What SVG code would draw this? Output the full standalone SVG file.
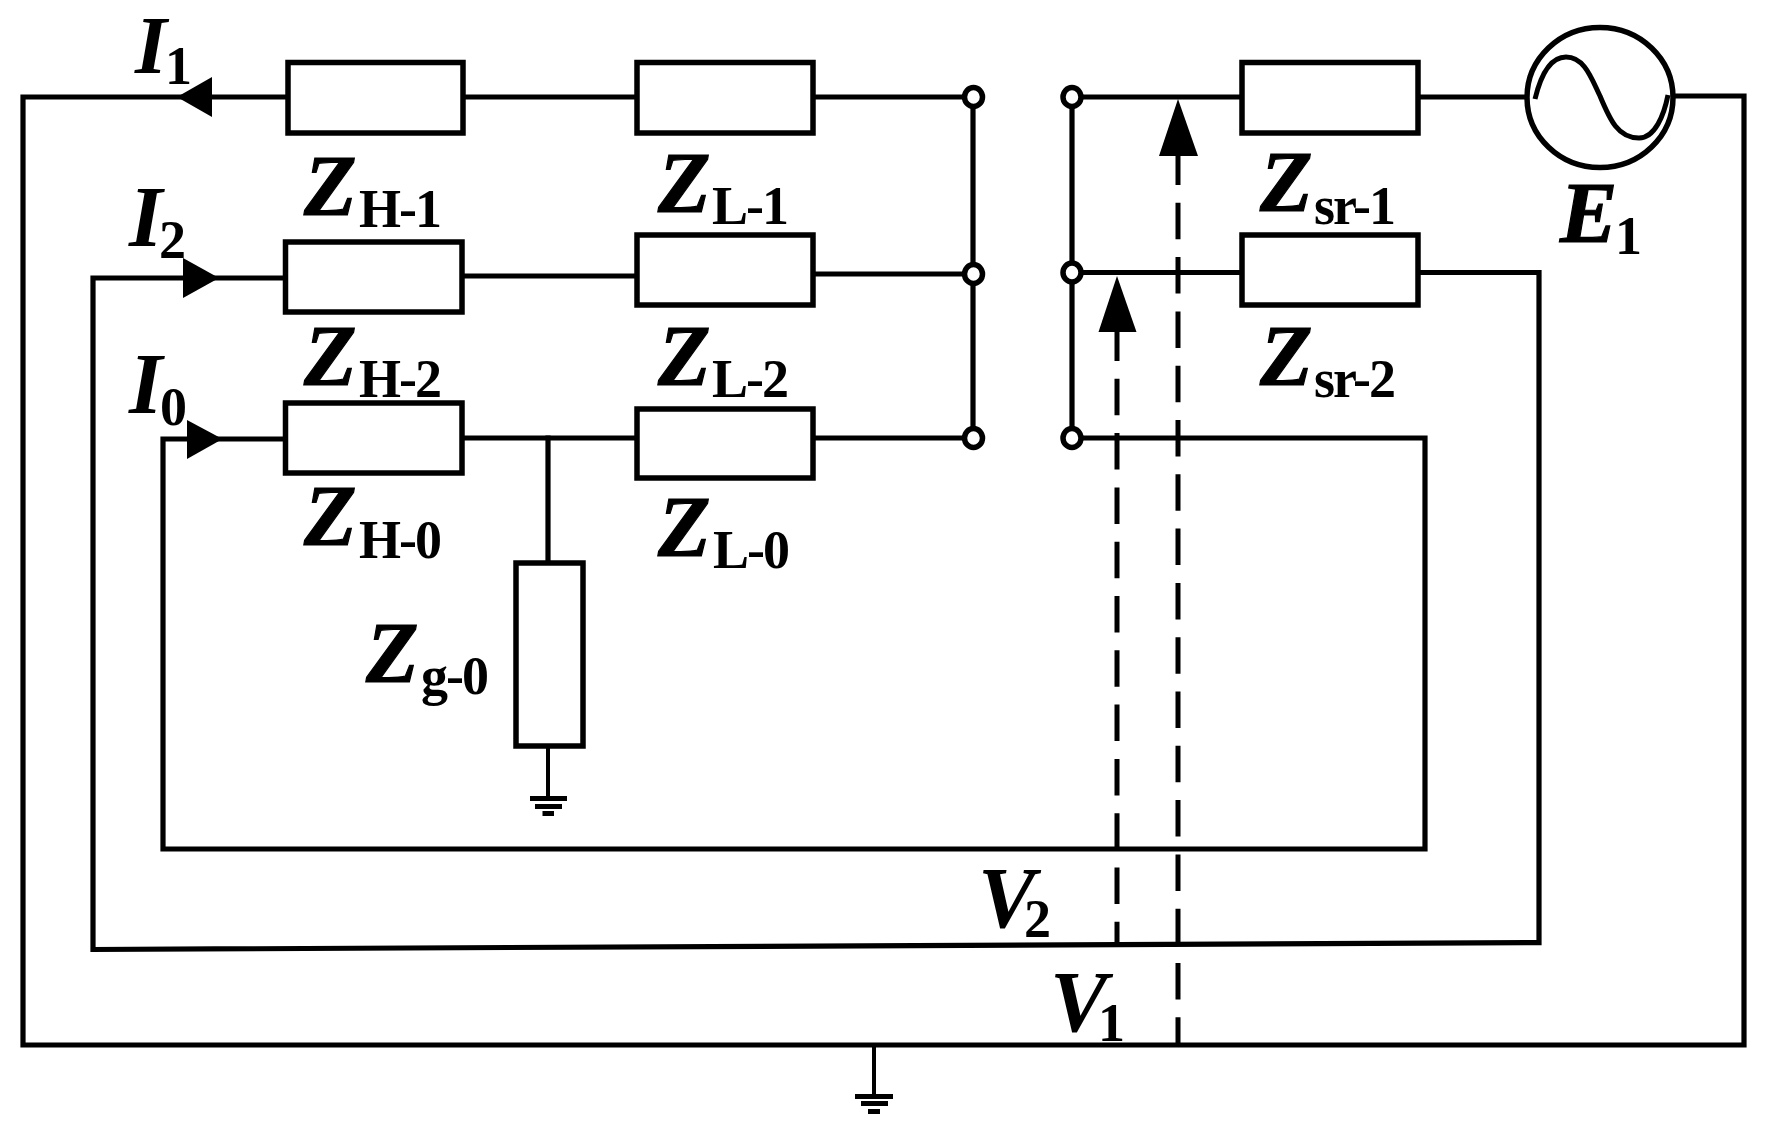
<svg xmlns="http://www.w3.org/2000/svg" width="1765" height="1139" viewBox="0 0 1765 1139">
<style>
.w{fill:none;stroke:#000;stroke-width:5.2;stroke-linejoin:miter;stroke-linecap:square}
.t{fill:none;stroke:#000;stroke-width:4}
.d{fill:none;stroke:#000;stroke-width:5;stroke-dasharray:36.5 17.8}
.b{fill:#fff;stroke:#000;stroke-width:5.5}
.o{fill:#fff;stroke:#000;stroke-width:5.5}
.a{fill:#000;stroke:none}
.k{fill:#000;stroke:none}
text{font-family:"Liberation Serif","Times New Roman",serif;fill:#000}
.m{font-size:86px;font-weight:bold;font-style:italic}
.z{stroke:#000;stroke-width:1.2}
.n{font-size:82px;font-weight:bold;font-style:italic}
.s{font-size:54px;font-weight:bold;letter-spacing:-2px}
</style>
<rect width="1765" height="1139" fill="#fff"/>
<g id="connectors">
<path class="w" d="M287,97 H23 V1045 H1744 V96 H1675"/>
<path class="w" d="M285,278 H93 L93,949.5 L1539,942.6 V272.5 H1418"/>
<path class="w" d="M285,439 H163 V849 H1425 V438 H1072"/>
<path class="w" d="M464,97 H637 M813,97 H973"/>
<path class="w" d="M462,276 H637 M813,274 H973"/>
<path class="w" d="M462,438 H637 M813,438 H973"/>
<path class="w" d="M548,438 V563"/>
<path class="t" d="M548,746 V798"/>
<path class="t" d="M874,1045 V1096"/>
<path class="w" d="M973,97 V438"/>
<path class="w" d="M1072,97 V438"/>
<path class="w" d="M1072,97 H1242"/>
<path class="w" d="M1072,272.5 H1242"/>
<path class="w" d="M1418,97 H1525"/>
<path class="d" d="M1117,324.5 V945"/>
<path class="d" d="M1178,148.5 V1045"/>
<polygon class="a" points="177,97 212,77 212,117"/>
<polygon class="a" points="219,278 183,258 183,298"/>
<polygon class="a" points="222.5,439 187,420 187,459"/>
<polygon class="a" points="1178,99 1159,156 1198,156"/>
<polygon class="a" points="1117,276 1098.5,332 1136.5,332"/>
</g>
<g id="Z-H-1"><rect class="b" x="288" y="62.5" width="175" height="70.5"/><text x="304" y="215"><tspan class="m z">Z</tspan><tspan class="s" x="359" y="226.5">H-1</tspan></text></g>
<g id="Z-L-1"><rect class="b" x="637" y="62.5" width="176" height="70.5"/><text x="658" y="211.6"><tspan class="m z">Z</tspan><tspan class="s" x="712" y="224">L-1</tspan></text></g>
<g id="Z-H-2"><rect class="b" x="285.500" y="242" width="176.500" height="70"/><text x="304" y="384.600"><tspan class="m z">Z</tspan><tspan class="s" x="359" y="397">H-2</tspan></text></g>
<g id="Z-L-2"><rect class="b" x="637" y="235" width="176" height="70"/><text x="658" y="384.600"><tspan class="m z">Z</tspan><tspan class="s" x="712" y="397">L-2</tspan></text></g>
<g id="Z-H-0"><rect class="b" x="285.500" y="403" width="176.500" height="70"/><text x="304" y="545"><tspan class="m z">Z</tspan><tspan class="s" x="359" y="558">H-0</tspan></text></g>
<g id="Z-L-0"><rect class="b" x="637" y="409" width="176" height="69"/><text x="658" y="555.7"><tspan class="m z">Z</tspan><tspan class="s" x="713" y="568">L-0</tspan></text></g>
<g id="Z-g-0"><rect class="b" x="516" y="563" width="67" height="183"/><text x="366" y="682"><tspan class="m z">Z</tspan><tspan class="s" x="421" y="694">g-0</tspan></text></g>
<g id="Z-sr-1"><rect class="b" x="1242" y="62.500" width="176" height="70.500"/><text x="1260" y="211"><tspan class="m z">Z</tspan><tspan class="s" x="1314" y="224" letter-spacing="-1">sr-1</tspan></text></g>
<g id="Z-sr-2"><rect class="b" x="1242" y="235" width="176" height="70"/><text x="1260" y="384.600"><tspan class="m z">Z</tspan><tspan class="s" x="1314" y="397" letter-spacing="-1">sr-2</tspan></text></g>
<g id="E1"><ellipse class="o" cx="1600" cy="97.500" rx="73" ry="70"/><path fill="none" stroke="#000" stroke-width="5" d="M1535,99 C1542,70 1553,57 1566,57 C1585,57 1592,80 1600,96 C1610,120 1618,138 1639,138 C1655,138 1664,115 1668,95"/><text x="1560" y="242"><tspan class="m z">E</tspan><tspan class="s" x="1615" y="254">1</tspan></text></g>
<g id="term-l1"><ellipse class="o" cx="973.500" cy="97" rx="9" ry="9.500"/></g>
<g id="term-l2"><ellipse class="o" cx="973.500" cy="274" rx="9" ry="9.500"/></g>
<g id="term-l0"><ellipse class="o" cx="973.500" cy="438" rx="9" ry="9.500"/></g>
<g id="term-r1"><ellipse class="o" cx="1072" cy="97" rx="9" ry="9.500"/></g>
<g id="term-r2"><ellipse class="o" cx="1072" cy="272.500" rx="9" ry="9.500"/></g>
<g id="term-r0"><ellipse class="o" cx="1072" cy="438" rx="9" ry="9.500"/></g>
<g id="ground-g"><rect class="k" x="530" y="796" width="37" height="5"/><rect class="k" x="535" y="804" width="27" height="5"/><rect class="k" x="542.500" y="811" width="11.500" height="5"/></g>
<g id="ground-main"><rect class="k" x="855" y="1094" width="38" height="5"/><rect class="k" x="861" y="1101" width="27" height="5"/><rect class="k" x="868" y="1109" width="12" height="5"/></g>
<g id="I1"><text x="135" y="73"><tspan class="n">I</tspan><tspan class="s" x="165" y="84">1</tspan></text></g>
<g id="I2"><text x="129" y="245.700"><tspan class="m">I</tspan><tspan class="s" x="159" y="257.500">2</tspan></text></g>
<g id="I0"><text x="129" y="413"><tspan class="m">I</tspan><tspan class="s" x="160" y="425">0</tspan></text></g>
<g id="V2"><text x="978" y="926.500"><tspan class="m">V</tspan><tspan class="s" x="1024" y="937">2</tspan></text></g>
<g id="V1"><text x="1050" y="1030.600"><tspan class="m">V</tspan><tspan class="s" x="1098" y="1041">1</tspan></text></g>
</svg>
